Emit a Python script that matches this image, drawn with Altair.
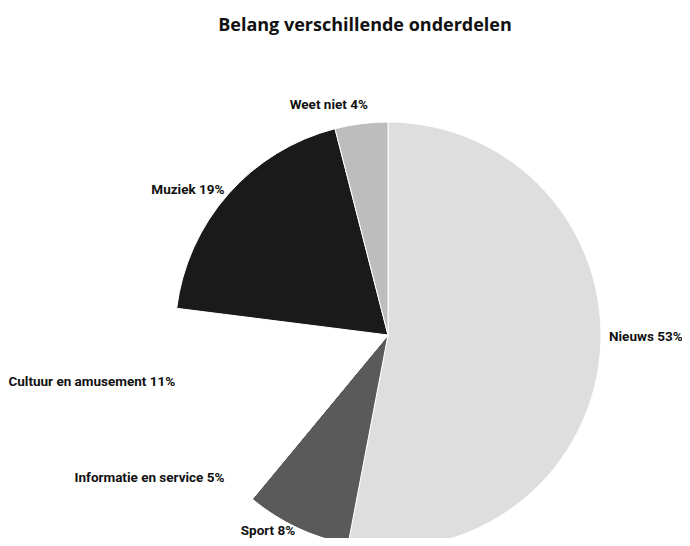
import altair as alt
import pandas as pd

categories = ["Nieuws", "Sport", "Informatie en service", "Cultuur en amusement", "Muziek", "Weet niet"]
values = [53, 8, 5, 11, 19, 4]
colors = ["#dedede", "#5a5a5a", "#ffffff", "#ffffff", "#1a1a1a", "#bdbdbd"]

df = pd.DataFrame({
    "cat": categories,
    "value": values,
    "idx": list(range(len(categories))),
    "label": [f"{c} {v}%" for c, v in zip(categories, values)],
})

CX, CY = 380, 287
theta_scale = alt.Scale(domain=[0, 100])
label_font = "Roboto"
label_style = dict(baseline="middle", font=label_font, fontSize=13.5, fontWeight="bold", color="#111")

base = alt.Chart(df)

arcs = base.mark_arc(outerRadius=213, stroke="white", strokeWidth=1).encode(
    theta=alt.Theta("value:Q", stack=True, scale=theta_scale),
    color=alt.Color("cat:N", scale=alt.Scale(domain=categories, range=colors), legend=None),
    order=alt.Order("idx:Q"),
    x=alt.value(CX),
    y=alt.value(CY),
)

lab = base.transform_window(
    cum="sum(value)", sort=[alt.SortField("idx")], frame=[None, 0]
).transform_calculate(mid="datum.cum - datum.value / 2")


def text_layer(filt, align, radius, dx=0, dy=0):
    return lab.transform_filter(filt).mark_text(align=align, dx=dx, dy=dy, **label_style).encode(
        theta=alt.Theta("mid:Q", stack=None, scale=theta_scale),
        radius=alt.value(radius),
        text="label:N",
        x=alt.value(CX),
        y=alt.value(CY),
    )


right_text = text_layer("datum.mid <= 50", "left", 222, dy=-19)
left_text = text_layer("datum.mid > 50 && datum.mid < 95", "right", 218, dy=-1)
top_text = text_layer("datum.mid >= 95", "right", 232, dx=9)

chart = alt.layer(arcs, right_text, left_text, top_text).properties(
    width=674,
    height=490,
    autosize="none",
    padding={"left": 0, "top": 40, "right": 0, "bottom": 0},
    title=alt.TitleParams(
        "Belang verschillende onderdelen",
        font="Open Sans", fontSize=18, fontWeight="bold", color="#111",
        anchor="middle", dx=20, offset=13,
    ),
).configure_view(strokeWidth=0)

chart.save("out.html", embed_options={"renderer": "svg", "actions": False})
